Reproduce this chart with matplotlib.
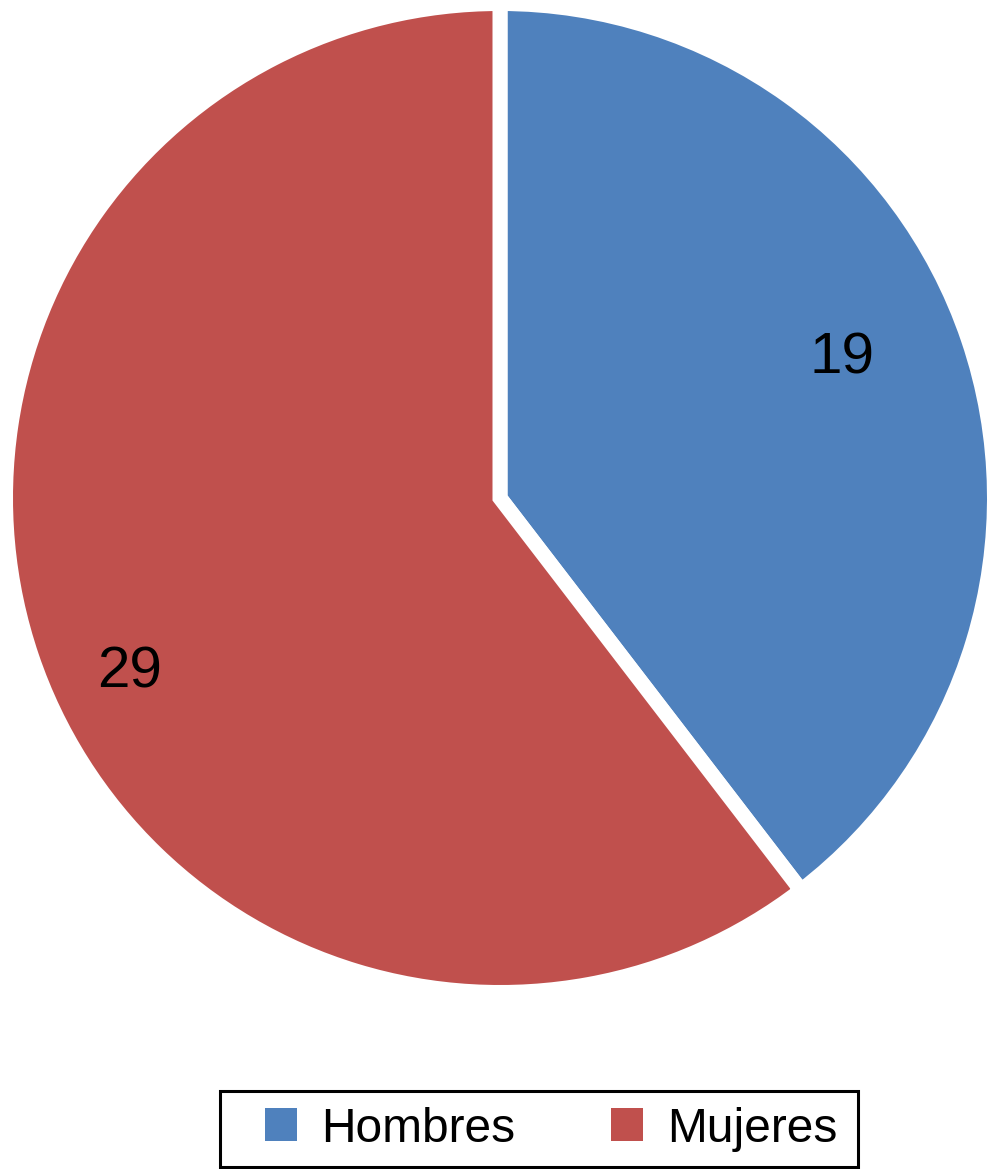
import numpy as np
import matplotlib
matplotlib.use("Agg")
import matplotlib.pyplot as plt
from matplotlib.patches import Patch, Rectangle

categories = ["Hombres", "Mujeres"]
values = [19, 29]
colors = ["#4F81BD", "#C0504D"]
label_dist = [0.736, 0.841]      # radial position of the value labels (baseline)
label_angle_shift = [1.3, 8.3]   # degrees, from wedge mid-angle

plt.rcParams["font.family"] = ["Liberation Sans", "DejaVu Sans"]

W, H, DPI = 1000, 1169, 100
fig = plt.figure(figsize=(W / DPI, H / DPI), dpi=DPI)

cx, cy, R = 500, 498, 494.5
ax = fig.add_axes([(cx - R) / W, (H - cy - R) / H, 2 * R / W, 2 * R / H])

wedges, _ = ax.pie(values, colors=colors, startangle=90, counterclock=False,
                   radius=1, wedgeprops=dict(edgecolor="white", linewidth=10.8))
ax.set_xlim(-1, 1)
ax.set_ylim(-1, 1)
ax.set_aspect("equal")
ax.axis("off")

for w, v, d, s in zip(wedges, values, label_dist, label_angle_shift):
    ang = np.deg2rad((w.theta1 + w.theta2) / 2 + s)
    ax.text(d * np.cos(ang), d * np.sin(ang), str(v), ha="center", va="baseline",
            fontsize=42, color="black")

handles = [Patch(facecolor=c, edgecolor="none") for c in colors]
leg = fig.legend(handles, categories, loc="center left",
                 bbox_to_anchor=(265 / W, 1 - 1129 / H), ncol=2,
                 fontsize=34.5, frameon=False,
                 handlelength=0.67, handleheight=0.67, handletextpad=0.5,
                 columnspacing=2.0, borderpad=0, borderaxespad=0)

# legend box
fig.patches.append(Rectangle((220 / W, 1 - 1167 / H), (858 - 220) / W, (1167 - 1091) / H,
                             transform=fig.transFigure, fill=False,
                             edgecolor="black", linewidth=2.2, zorder=0))

fig.savefig("out.png", dpi=DPI, facecolor="white")
